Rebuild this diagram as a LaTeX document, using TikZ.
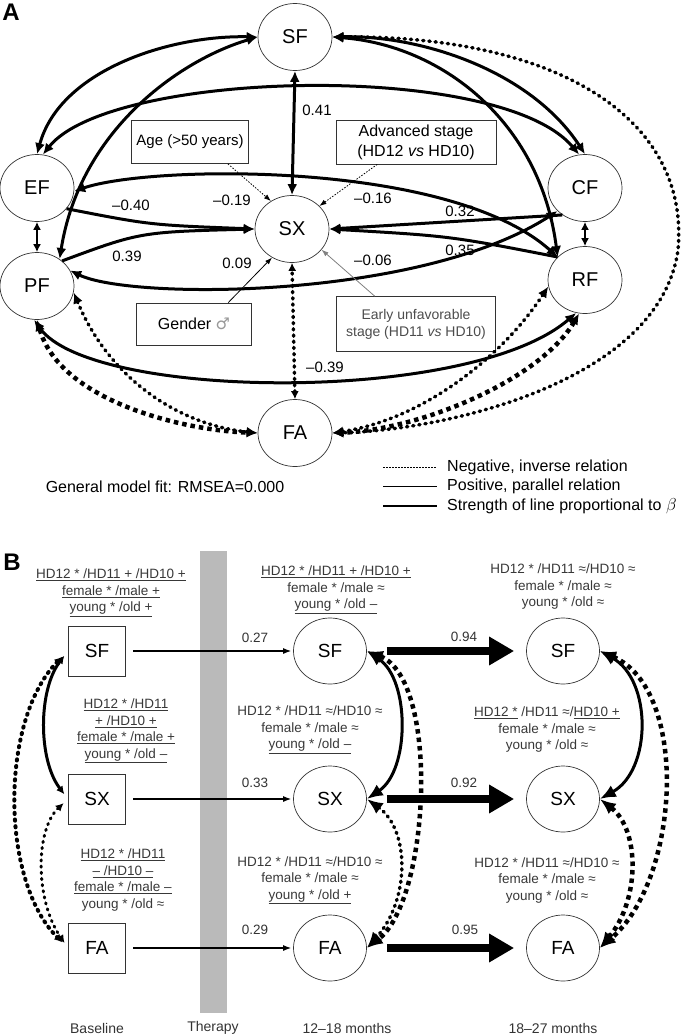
\documentclass[tikz,border=0pt]{standalone}
\usepackage{fontspec}
\setmainfont{Liberation Sans}
\newfontfamily\symfont{DejaVu Sans}
\usetikzlibrary{shapes.geometric,arrows.meta}
\begin{document}
\begin{tikzpicture}[x=1pt, y=-1pt, >={Latex[length=11pt,width=10pt]},
  var/.style={ellipse, draw=black!80, line width=0.7pt, minimum width=74pt, minimum height=67pt, inner sep=0pt, font=\fontsize{20}{24}\selectfont},
  obs/.style={rectangle, draw=black!80, line width=1pt, minimum width=57pt, minimum height=50pt, inner sep=0pt, font=\fontsize{19}{23}\selectfont},
  cvbox/.style={rectangle, draw=black!80, line width=0.8pt, align=center, inner sep=0pt},
  rel/.style={line width=3pt, <->},
  effect/.style={line width=3pt, ->},
  relneg/.style={line width=3.5pt, dash pattern=on 1.2pt off 5pt, line cap=round, <->},
  relnegthick/.style={line width=4.5pt, dash pattern=on 4.5pt off 4pt, <->},
  link/.style={line width=0.8pt, -{Latex[length=7pt,width=5pt]}},
  linkneg/.style={link, dash pattern=on 1.5pt off 1.5pt},
  lbl/.style={font=\fontsize{15}{18}\selectfont, inner sep=0pt},
  leg/.style={font=\fontsize{16}{19}\selectfont, inner sep=0pt, anchor=west},
  covtext/.style={font=\fontsize{13.5}{16.5}\selectfont, align=center, text=black!78, inner sep=0pt},
  blbl/.style={font=\fontsize{13.5}{16}\selectfont, text=black!80, inner sep=0pt},
  flow/.style={line width=1.2pt, -{Latex[length=8pt,width=6pt]}, shorten <=7pt, shorten >=2pt},
  carry/.style={line width=8pt, -{Triangle[length=25pt,width=27pt]}, shorten <=20pt, shorten >=12pt},
  bigtips/.style={>={Latex[length=16pt,width=13pt]}},
  smalltips/.style={>={Latex[length=8pt,width=8pt]}}]
\useasboundingbox (0,0) rectangle (684,1036);

% panel A
\node[font=\bfseries\fontsize{24}{24}\selectfont, inner sep=0pt] (pa) at (11,12) {A};
\node[var] (sf) at (295,37) {SF};
\node[var] (ef) at (37,188) {EF};
\node[var] (pf) at (37,286) {PF};
\node[var] (sx) at (292,229) {SX};
\node[var] (cf) at (585,188) {CF};
\node[var] (rf) at (585,280) {RF};
\node[var] (fa) at (295,433) {FA};
\node[cvbox, minimum width=117pt, minimum height=43pt, font=\fontsize{15}{18}\selectfont] (age) at (190,142) {Age (>50 years)};
\node[cvbox, minimum width=160pt, minimum height=44pt, font=\fontsize{16}{20}\selectfont] (adv) at (416,142) {Advanced stage\\(HD12 \textit{vs} HD10)};
\node[cvbox, minimum width=115pt, minimum height=42pt, font=\fontsize{16}{19}\selectfont] (gen) at (194,324) {Gender {\symfont\color{black!40}♂}};
\node[cvbox, minimum width=159pt, minimum height=55pt, font=\fontsize{14}{17}\selectfont, text=black!70] (early) at (416,324) {Early unfavorable\\stage (HD11 \textit{vs} HD10)};

\draw[rel] (sf.south) -- (sx.north);
\draw[rel, smalltips, line width=2.5pt] (ef.south) -- (pf.north);
\draw[rel, smalltips, line width=2.5pt] (cf.south) -- (rf.north);
\draw[rel] (sf.west) .. controls (170,35) and (60,70) .. (ef.north);
\draw[rel] (sf.west) .. controls (180,60) and (80,130) .. (pf.50);
\draw[rel] (sf.east) .. controls (420,35) and (530,70) .. (cf.north);
\draw[rel] (sf.east) .. controls (440,45) and (540,120) .. (rf.140);
\draw[rel] (ef.80) .. controls (110,70) and (500,60) .. (cf.100);
\draw[rel] (ef.-5) .. controls (150,165) and (450,160) .. (rf.140);
\draw[rel] (pf.25) .. controls (130,300) and (420,300) .. (cf.220);
\draw[rel] (pf.265) .. controls (90,400) and (470,405) .. (rf.255);
\draw[effect] (ef.-35) .. controls (150,225) .. (sx.west);
\draw[effect] (pf.45) .. controls (140,232) .. (sx.west);
\draw[effect] (cf.230) .. controls (450,222) .. (sx.east);
\draw[effect] (rf.140) .. controls (450,236) .. (sx.east);
\draw[relneg, smalltips] (fa.north) -- (sx.south);
\draw[relneg] (sf.east) .. controls (560,35) and (690,120) .. (678,250) .. controls (660,380) and (450,430) .. (fa.east);
\draw[relnegthick] (pf.270) .. controls (60,400) and (180,430) .. (fa.west);
\draw[relneg] (pf.-10) .. controls (110,380) and (180,425) .. (fa.west);
\draw[relneg] (rf.190) .. controls (500,360) and (420,420) .. (fa.east);
\draw[relnegthick] (rf.260) .. controls (540,380) and (420,430) .. (fa.east);
\draw[linkneg] (age.-30) -- (sx.127);
\draw[linkneg] (adv.210) -- (sx.40);
\draw[link] (gen.32) -- (sx.235);
\draw[link, black!50] (early.146) -- (sx.-35);

\node[lbl] (b41) at (317,110) {0.41};
\node[lbl] (b40) at (131,205) {–0.40};
\node[lbl] (b39) at (127,256) {0.39};
\node[lbl] (b19) at (232,200) {–0.19};
\node[lbl] (b16) at (373,198) {–0.16};
\node[lbl] (b09) at (237,263) {0.09};
\node[lbl] (b06) at (373,260) {–0.06};
\node[lbl] (b32) at (460,211) {0.32};
\node[lbl] (b35) at (460,250) {0.35};
\node[lbl] (bfa) at (325,367) {–0.39};

\node[font=\fontsize{16}{19}\selectfont, inner sep=0pt] (fit) at (165,487) {General model fit: RMSEA=0.000};
\node[leg] (legneg) at (447,467) {Negative, inverse relation};
\node[leg] (legpos) at (447,486) {Positive, parallel relation};
\node[leg] (legstr) at (447,506) {Strength of line proportional to $\beta$};
\draw[line width=1pt, dash pattern=on 1.5pt off 1.5pt] ([xshift=-64pt]legneg.west) -- ([xshift=-10pt]legneg.west);
\draw[line width=0.8pt] ([xshift=-64pt]legpos.west) -- ([xshift=-10pt]legpos.west);
\draw[line width=1.6pt] ([xshift=-64pt]legstr.west) -- ([xshift=-10pt]legstr.west);

% panel B
\node[font=\bfseries\fontsize{24}{24}\selectfont, inner sep=0pt] (pb) at (12,562) {B};
\fill[black!27] (200,551) rectangle (227,1013);
\node[obs] (bsf) at (97,651) {SF};
\node[obs] (bsx) at (97,799) {SX};
\node[obs] (bfa) at (97,948) {FA};
\node[var, minimum width=73pt, minimum height=66pt, font=\fontsize{19}{23}\selectfont] (msf) at (330,651) {SF};
\node[var, minimum width=73pt, minimum height=66pt, font=\fontsize{19}{23}\selectfont] (msx) at (330,799) {SX};
\node[var, minimum width=73pt, minimum height=66pt, font=\fontsize{19}{23}\selectfont] (mfa) at (330,948) {FA};
\node[var, minimum width=73pt, minimum height=66pt, font=\fontsize{19}{23}\selectfont] (lsf) at (563,651) {SF};
\node[var, minimum width=73pt, minimum height=66pt, font=\fontsize{19}{23}\selectfont] (lsx) at (563,799) {SX};
\node[var, minimum width=73pt, minimum height=66pt, font=\fontsize{19}{23}\selectfont] (lfa) at (563,948) {FA};

\node[covtext] (tbsf) at (111,593) {\underline{HD12 * /HD11 + /HD10 +}\\\underline{female * /male +}\\\underline{young * /old +}};
\node[covtext] (tbsx) at (126,731) {\underline{HD12 * /HD11}\\\underline{+ /HD10 +}\\\underline{female * /male +}\\\underline{young * /old –}};
\node[covtext] (tbfa) at (123,880) {\underline{HD12 * /HD11}\\\underline{– /HD10 –}\\\underline{female * /male –}\\young * /old ≈};
\node[covtext] (tmsf) at (336,590) {\underline{HD12 * /HD11 + /HD10 +}\\female * /male ≈\\\underline{young * /old –}};
\node[covtext] (tmsx) at (310,730) {HD12 * /HD11 ≈/HD10 ≈\\female * /male ≈\\\underline{young * /old –}};
\node[covtext] (tmfa) at (310,880) {HD12 * /HD11 ≈/HD10 ≈\\female * /male ≈\\\underline{young * /old +}};
\node[covtext] (tlsf) at (563,587) {HD12 * /HD11 ≈/HD10 ≈\\female * /male ≈\\young * /old ≈};
\node[covtext] (tlsx) at (547,730) {\underline{HD12 *} /HD11 ≈/\underline{HD10 +}\\female * /male ≈\\young * /old ≈};
\node[covtext] (tlfa) at (547,880) {HD12 * /HD11 ≈/HD10 ≈\\female * /male ≈\\young * /old ≈};

\draw[flow] (bsf.east) -- (msf.west);
\draw[flow] (bsx.east) -- (msx.west);
\draw[flow] (bfa.east) -- (mfa.west);
\draw[carry] (msf.east) -- (lsf.west);
\draw[carry] (msx.east) -- (lsx.west);
\draw[carry] (mfa.east) -- (lfa.west);
\node[blbl] (w27) at (255,638) {0.27};
\node[blbl] (w33) at (255,783) {0.33};
\node[blbl] (w29) at (255,930) {0.29};
\node[blbl] (w94) at (464,637) {0.94};
\node[blbl] (w92) at (464,783) {0.92};
\node[blbl] (w95) at (465,930) {0.95};

\draw[rel, smalltips, shorten <=6pt, shorten >=6pt] (bsf.west) .. controls (38,690) and (38,760) .. (bsx.west);
\draw[relneg, smalltips, line width=4pt, dash pattern=on 1.2pt off 5.5pt, shorten <=8pt, shorten >=8pt] (bsf.west) .. controls (0,720) and (0,880) .. (bfa.west);
\draw[relneg, smalltips, line width=3pt, shorten <=6pt, shorten >=6pt] (bsx.west) .. controls (35,830) and (35,900) .. (bfa.west);
\draw[rel, bigtips] (msf.east) .. controls (410,680) and (410,770) .. (msx.east);
\draw[relnegthick, bigtips] (msf.east) .. controls (440,680) and (430,900) .. (mfa.east);
\draw[relneg, bigtips] (msx.east) .. controls (410,830) and (410,900) .. (mfa.east);
\draw[rel, bigtips] (lsf.east) .. controls (652,680) and (652,770) .. (lsx.east);
\draw[relnegthick, bigtips] (lsf.east) .. controls (690,690) and (680,880) .. (lfa.east);
\draw[relnegthick, bigtips] (lsx.east) .. controls (640,830) and (640,900) .. (lfa.east);

\node[blbl, font=\fontsize{14}{16}\selectfont] (tbase) at (97,1028) {Baseline};
\node[blbl, font=\fontsize{14}{16}\selectfont] (tther) at (213,1028) {Therapy};
\node[blbl, font=\fontsize{14}{16}\selectfont] (tmid) at (347,1028) {12–18 months};
\node[blbl, font=\fontsize{14}{16}\selectfont] (tlate) at (553,1028) {18–27 months};
\end{tikzpicture}
\end{document}
